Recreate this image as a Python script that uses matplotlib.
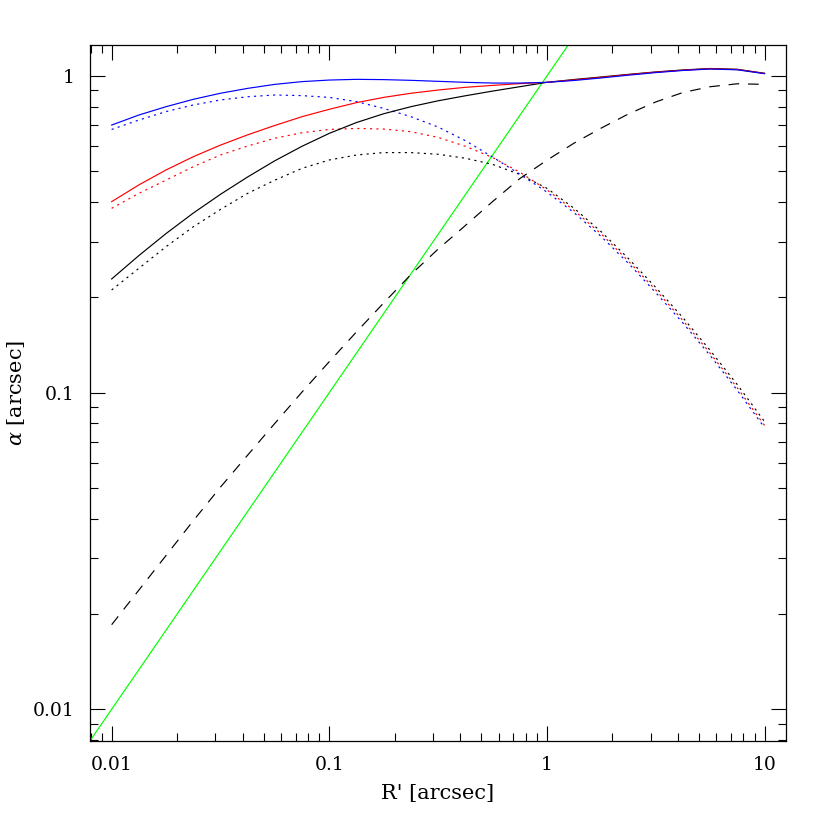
import matplotlib
matplotlib.use("Agg")
import matplotlib.pyplot as plt
from matplotlib.ticker import LogLocator, FixedLocator, FixedFormatter, NullFormatter

# sampled radii R' [arcsec], 1/8 decade apart
r = [0.01, 0.01334, 0.01778, 0.02371, 0.03162, 0.04217, 0.05623, 0.07499,
     0.1, 0.1334, 0.1778, 0.2371, 0.3162, 0.4217, 0.5623, 0.7499,
     1.0, 1.334, 1.778, 2.371, 3.162, 4.217, 5.623, 7.499, 10.0]

# solid curves
black_solid = [0.2286, 0.271, 0.318, 0.369, 0.423, 0.480, 0.540, 0.600,
               0.659, 0.713, 0.760, 0.800, 0.835, 0.866, 0.896, 0.925,
               0.955, 0.975, 0.993, 1.012, 1.030, 1.045, 1.056, 1.050, 1.020]
red_solid = [0.401, 0.453, 0.505, 0.556, 0.605, 0.652, 0.698, 0.744,
             0.785, 0.824, 0.856, 0.882, 0.903, 0.921, 0.934, 0.946,
             0.955, 0.972, 0.990, 1.010, 1.028, 1.043, 1.054, 1.048, 1.019]
blue_solid = [0.700, 0.753, 0.800, 0.844, 0.882, 0.914, 0.941, 0.960,
              0.971, 0.976, 0.974, 0.969, 0.962, 0.955, 0.950, 0.950,
              0.955, 0.968, 0.986, 1.006, 1.025, 1.041, 1.052, 1.046, 1.017]

# dotted curves
black_dot = [0.211, 0.247, 0.289, 0.334, 0.379, 0.426, 0.469, 0.511,
             0.543, 0.563, 0.573, 0.573, 0.566, 0.550, 0.526, 0.489,
             0.442, 0.382, 0.322, 0.265, 0.215, 0.1725, 0.136, 0.106, 0.081]
red_dot = [0.382, 0.426, 0.469, 0.517, 0.563, 0.601, 0.636, 0.662,
           0.678, 0.683, 0.680, 0.667, 0.640, 0.600, 0.553, 0.497,
           0.437, 0.376, 0.317, 0.260, 0.211, 0.169, 0.1332, 0.1035, 0.0788]
blue_dot = [0.678, 0.726, 0.772, 0.810, 0.840, 0.860, 0.871, 0.867,
            0.856, 0.830, 0.790, 0.744, 0.690, 0.625, 0.555, 0.490,
            0.430, 0.370, 0.311, 0.256, 0.207, 0.166, 0.131, 0.1017, 0.0775]

# dashed curve
dashed = [0.0185, 0.0238, 0.0306, 0.0394, 0.0503, 0.0635, 0.0800, 0.1005,
          0.1253, 0.1556, 0.192, 0.236, 0.284, 0.337, 0.401, 0.474,
          0.542, 0.614, 0.685, 0.759, 0.828, 0.887, 0.925, 0.945, 0.941]

# green line alpha = R'
green_x = [0.005, 2.0]
green_y = [0.005, 2.0]

xticks = [0.01, 0.1, 1, 10]
xtick_labels = ["0.01", "0.1", "1", "10"]
yticks = [0.01, 0.1, 1]
ytick_labels = ["0.01", "0.1", "1"]

plt.rcParams['font.family'] = ['DejaVu Serif']
plt.rcParams['mathtext.fontset'] = 'dejavuserif'

fig = plt.figure(figsize=(8.3, 8.3), dpi=100)
ax = fig.add_axes([0.1084, 0.1072, 0.8386, 0.8386])

lw = 0.85
dot = (1.8, 3.6)
ax.plot(green_x, green_y, color='#00ff00', lw=lw)
ax.plot(r, dashed, color='black', lw=lw, dashes=(9, 7.5))
ax.plot(r, black_dot, color='black', lw=lw, dashes=dot)
ax.plot(r, red_dot, color='red', lw=lw, dashes=dot)
ax.plot(r, blue_dot, color='blue', lw=lw, dashes=dot)
ax.plot(r, black_solid, color='black', lw=lw)
ax.plot(r, red_solid, color='red', lw=lw)
ax.plot(r, blue_solid, color='blue', lw=lw)

ax.set_xscale('log')
ax.set_yscale('log')
ax.set_xlim(0.00795, 12.55)
ax.set_ylim(0.00794, 1.253)

ax.xaxis.set_major_locator(FixedLocator(xticks))
ax.xaxis.set_major_formatter(FixedFormatter(xtick_labels))
ax.yaxis.set_major_locator(FixedLocator(yticks))
ax.yaxis.set_major_formatter(FixedFormatter(ytick_labels))
ax.xaxis.set_minor_locator(LogLocator(base=10, subs=range(2, 10), numticks=20))
ax.yaxis.set_minor_locator(LogLocator(base=10, subs=range(2, 10), numticks=20))
ax.xaxis.set_minor_formatter(NullFormatter())
ax.yaxis.set_minor_formatter(NullFormatter())

ax.tick_params(which='both', direction='in', top=True, right=True, width=0.8, labelsize=13.5)
ax.tick_params(which='major', length=10.8, pad=11)
ax.tick_params(which='minor', length=5.5)
for s in ax.spines.values():
    s.set_linewidth(0.9)

ax.set_xlabel("R' [arcsec]", fontsize=15, labelpad=7)
ax.set_ylabel(r"$\alpha$ [arcsec]", fontsize=15, labelpad=4)

fig.savefig("out.png", dpi=100)
